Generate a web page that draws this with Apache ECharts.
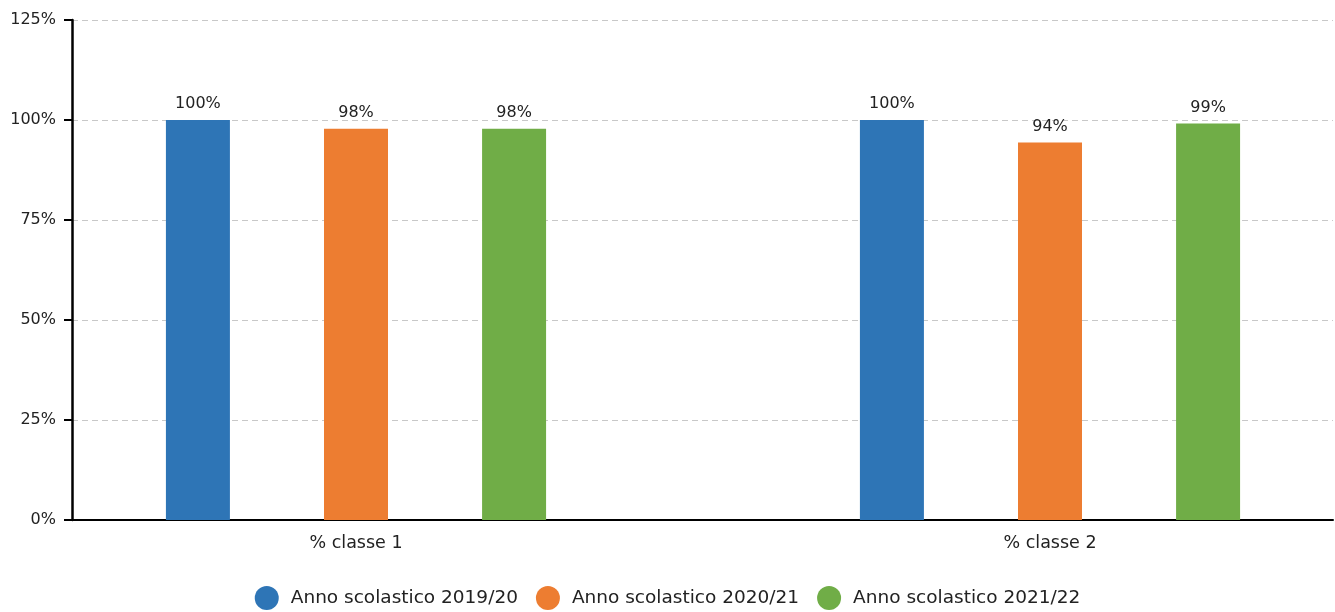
<!DOCTYPE html>
<html>
<head>
<meta charset="utf-8">
<script src="https://cdn.jsdelivr.net/npm/echarts@6/dist/echarts.min.js"></script>
<style>
  html, body { margin: 0; padding: 0; background: #fff; }
  #chart { width: 1335px; height: 612px; }
</style>
</head>
<body>
<div id="chart"></div>
<script>
// categorie e valori (%)
var categories = ['% classe 1', '% classe 2']
var seriesNames = ['Anno scolastico 2019/20', 'Anno scolastico 2020/21', 'Anno scolastico 2021/22']
var anno2019 = [100, 100]
var anno2020 = [97.8, 94.4]
var anno2021 = [97.8, 99.1]
var yTicks = [0, 25, 50, 75, 100, 125]
var colors = ['#2E75B6', '#ED7D31', '#70AD47']

var myChart = echarts.init(document.getElementById('chart'))

var font = 'DejaVu Sans'

function barSeries(name, data, color) {
  return {
    name: name,
    type: 'bar',
    xAxisIndex: 0,
    yAxisIndex: 0,
    data: data,
    barWidth: 64,
    barGap: '147%',
    itemStyle: { color: color },
    label: {
      show: true,
      position: 'top',
      distance: 8,
      fontFamily: font,
      fontSize: 16,
      color: '#222',
      formatter: function (p) { return Math.round(p.value) + '%' }
    }
  }
}

myChart.setOption({
  animation: false,
  textStyle: { fontFamily: font },
  legend: {
    top: 581,
    left: 'center',
    icon: 'circle',
    itemWidth: 38,
    itemHeight: 24,
    itemGap: 18,
    textStyle: { fontFamily: font, fontSize: 18.5, color: '#222' },
    data: seriesNames
  },
  grid: [
    // griglia delle barre (più larga della finestra)
    { left: 9, top: 20, width: 1388, height: 500, outerBoundsMode: 'none' },
    // griglia degli assi visibili
    { left: 72, top: 20, width: 1261, height: 500, outerBoundsMode: 'none' }
  ],
  xAxis: [
    {
      gridIndex: 0,
      type: 'category',
      data: categories,
      axisLine: { show: false },
      axisTick: { show: false },
      axisLabel: { fontFamily: font, fontSize: 17.5, color: '#222', margin: 14 }
    },
    {
      gridIndex: 1,
      type: 'value',
      min: 0,
      max: 1,
      axisLine: { show: true, lineStyle: { color: '#000', width: 2 } },
      axisTick: { show: false },
      axisLabel: { show: false },
      splitLine: { show: false }
    }
  ],
  yAxis: [
    {
      gridIndex: 0,
      type: 'value',
      min: yTicks[0],
      max: yTicks[yTicks.length - 1],
      interval: 25,
      show: false
    },
    {
      gridIndex: 1,
      type: 'value',
      min: yTicks[0],
      max: yTicks[yTicks.length - 1],
      interval: 25,
      axisLine: { show: true, lineStyle: { color: '#000', width: 2.5 } },
      axisTick: { show: true, length: 8, lineStyle: { color: '#000', width: 2 } },
      axisLabel: { fontFamily: font, fontSize: 16, color: '#222', margin: 16, formatter: '{value}%' },
      splitLine: { show: true, lineStyle: { color: '#c8c8c8', type: [6, 4], width: 1 } }
    }
  ],
  series: [
    barSeries(seriesNames[0], anno2019, colors[0]),
    barSeries(seriesNames[1], anno2020, colors[1]),
    barSeries(seriesNames[2], anno2021, colors[2])
  ]
})
</script>
</body>
</html>
